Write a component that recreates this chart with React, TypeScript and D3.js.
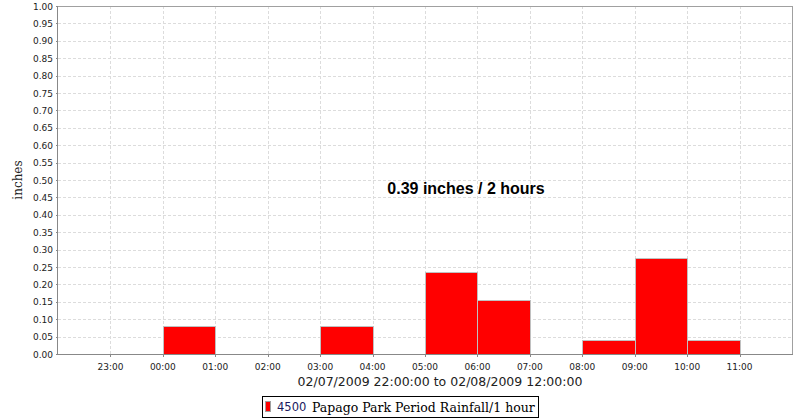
import React from "react";
import * as d3 from "d3";

const hours = ["22:00", "23:00", "00:00", "01:00", "02:00", "03:00", "04:00", "05:00", "06:00", "07:00", "08:00", "09:00", "10:00", "11:00"];
const rainfall = [0, 0, 0.08, 0, 0, 0.08, 0, 0.235, 0.155, 0, 0.04, 0.275, 0.04, 0];
const yTicks = d3.range(0, 21).map((i) => i * 0.05);
const axisTitle = "02/07/2009 22:00:00 to 02/08/2009 12:00:00";
const yTitle = "inches";
const annotation = "0.39 inches / 2 hours";
const legendId = "4500";
const legendLabel = "Papago Park Period Rainfall/1 hour";

const W = 800, H = 420;
const M = { left: 58, top: 6, right: 792, bottom: 354 };

function toDate(h: string, i: number) {
  const [hh] = h.split(":").map(Number);
  const day = i < 2 ? 7 : 8;
  return new Date(2009, 1, day, hh, 0, 0);
}

export default function App() {
  const start = new Date(2009, 1, 7, 22);
  const end = new Date(2009, 1, 8, 12);
  const x = d3.scaleTime().domain([start, end]).range([M.left, M.right]);
  const y = d3.scaleLinear().domain([0, 1]).range([M.bottom, M.top]);
  const fmt = d3.timeFormat("%H:%M");
  const xTicks = d3.timeHour.every(1)!.range(new Date(2009, 1, 7, 23), end);
  const bars = hours.map((h, i) => ({ t: toDate(h, i), v: rainfall[i] })).filter((d) => d.v > 0);
  const sans = "'DejaVu Sans', sans-serif";

  return (
    <svg width={W} height={H} style={{ position: "absolute", left: 0, top: 0, background: "#fff" }}>
      <rect x={0} y={0} width={W} height={H} fill="#fff" />
      {/* grid */}
      {yTicks.filter((v) => v > 0 && v < 1).map((v) => (
        <line key={"gy" + v} x1={M.left} x2={M.right} y1={Math.round(y(v)) + 0.5} y2={Math.round(y(v)) + 0.5} stroke="#dcdcdc" strokeDasharray="3,2" />
      ))}
      {xTicks.map((t) => (
        <line key={"gx" + t.getTime()} x1={Math.round(x(t)) + 0.5} x2={Math.round(x(t)) + 0.5} y1={M.top} y2={M.bottom} stroke="#dcdcdc" strokeDasharray="3,2" />
      ))}
      {/* bars */}
      {bars.map((d) => {
        const x0 = x(d.t);
        const x1 = x(d3.timeHour.offset(d.t, 1));
        return (
          <rect key={d.t.getTime()} x={Math.round(x0) + 0.5} y={Math.round(y(d.v)) + 0.5} width={Math.round(x1) - Math.round(x0)} height={Math.round(y(0)) - Math.round(y(d.v))} fill="#ff0000" stroke="#c0c0c0" strokeWidth={1} />
        );
      })}
      {/* outline */}
      <line x1={M.left} x2={M.right} y1={M.top + 0.5} y2={M.top + 0.5} stroke="#a0a0a0" />
      <line x1={M.right + 0.5} x2={M.right + 0.5} y1={M.top} y2={M.bottom} stroke="#a0a0a0" />
      <line x1={M.left - 0.5} x2={M.left - 0.5} y1={M.top} y2={M.bottom + 1} stroke="#888" />
      <line x1={M.left} x2={M.right + 1} y1={M.bottom + 0.5} y2={M.bottom + 0.5} stroke="#888" />
      {/* y ticks */}
      {yTicks.map((v) => (
        <g key={"yt" + v}>
          <line x1={M.left - 2} x2={M.left} y1={Math.round(y(v)) + 0.5} y2={Math.round(y(v)) + 0.5} stroke="#888" />
          <text x={M.left - 5} y={y(v) + 3.5} textAnchor="end" fontFamily={sans} fontSize={9} fill="#222">
            {v.toFixed(2)}
          </text>
        </g>
      ))}
      {/* x ticks */}
      {xTicks.map((t) => (
        <g key={"xt" + t.getTime()}>
          <line x1={Math.round(x(t)) + 0.5} x2={Math.round(x(t)) + 0.5} y1={M.bottom} y2={M.bottom + 3} stroke="#888" />
          <text x={x(t)} y={M.bottom + 16} textAnchor="middle" fontFamily={sans} fontSize={9} fill="#222">
            {fmt(t)}
          </text>
        </g>
      ))}
      <text x={440} y={386} textAnchor="middle" fontFamily={sans} fontSize={12.5} fill="#222">{axisTitle}</text>
      <text transform={`translate(22,${(M.top + M.bottom) / 2}) rotate(-90)`} textAnchor="middle" fontFamily="'DejaVu Serif', serif" fontSize={12} fill="#222">{yTitle}</text>
      <text x={466} y={194} textAnchor="middle" fontFamily="'Liberation Sans', Arial, sans-serif" fontWeight="bold" fontSize={16} fill="#000">{annotation}</text>
      {/* legend */}
      <rect x={262.5} y={396.5} width={276} height={21} fill="#fff" stroke="#000" />
      <rect x={265.5} y={401.5} width={5} height={10} fill="#ff0000" stroke="#a0a0a0" />
      <text x={277} y={411} fontFamily={sans} fontSize={11.5} fill="#1a1a5e">{legendId}</text>
      <text x={312} y={412} fontFamily="'DejaVu Serif', serif" fontSize={12.5} fill="#000">{legendLabel}</text>
    </svg>
  );
}
